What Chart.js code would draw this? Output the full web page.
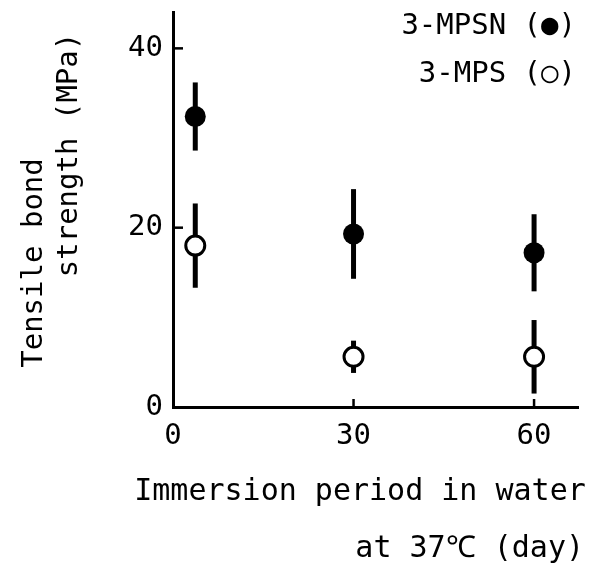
<!DOCTYPE html>
<html lang="en">
<head>
  <meta charset="UTF-8" />
  <title>Tensile bond strength vs immersion period</title>
  <script src="https://cdn.jsdelivr.net/npm/chart.js"></script>
  <style>
    body { margin: 0; background: #fff; }
    .wrap { width: 613px; height: 565px; }
  </style>
</head>
<body>
<div class="wrap"><canvas id="chart" width="613" height="565"></canvas></div>
<script>
  // values
  const days = [3.7, 30, 60];
  const mpsnMean = [32.4, 19.3, 17.2];
  const mpsnSD = [3.8, 5.0, 4.3];
  const mpsMean = [18.0, 5.6, 5.6];
  const mpsSD = [4.7, 1.8, 4.1];
  const xTicks = [0, 30, 60];
  const yTicks = [0, 20, 40];
  const seriesNames = ["3-MPSN (●)", "3-MPS (○)"];

  const FONT = "'DejaVu Sans Mono', 'Liberation Mono', monospace";

  const toPoints = (xs, ys) => xs.map((x, i) => ({ x, y: ys[i] }));

  // error bars, inner ticks and free-standing texts
  const extras = {
    id: "extras",
    beforeDatasetsDraw(chart) {
      const { ctx, scales: { x, y } } = chart;
      ctx.save();
      ctx.strokeStyle = "#000";
      ctx.lineWidth = 5;
      chart.data.datasets.forEach(ds => {
        ds.data.forEach((p, i) => {
          const px = x.getPixelForValue(p.x);
          ctx.beginPath();
          ctx.moveTo(px, y.getPixelForValue(p.y - ds.sd[i]));
          ctx.lineTo(px, y.getPixelForValue(p.y + ds.sd[i]));
          ctx.stroke();
        });
      });
      ctx.restore();
    },
    afterDraw(chart) {
      const { ctx, chartArea: a, scales: { x, y } } = chart;
      ctx.save();
      ctx.strokeStyle = "#000";
      ctx.lineWidth = 2.5;
      yTicks.slice(1).forEach(v => {
        const py = y.getPixelForValue(v);
        ctx.beginPath(); ctx.moveTo(a.left, py); ctx.lineTo(a.left + 10, py); ctx.stroke();
      });
      xTicks.slice(1).forEach(v => {
        const px = x.getPixelForValue(v);
        ctx.beginPath(); ctx.moveTo(px, a.bottom); ctx.lineTo(px, a.bottom - 8); ctx.stroke();
      });

      ctx.fillStyle = "#000";
      ctx.font = "29px " + FONT;
      ctx.textAlign = "right";
      ctx.textBaseline = "alphabetic";
      ctx.fillText(seriesNames[0], 576, 34);
      ctx.fillText(seriesNames[1], 576, 82);

      ctx.font = "30px " + FONT;
      ctx.textAlign = "center";
      ctx.fillText("Immersion period in water", 360, 500);
      ctx.textAlign = "right";
      ctx.fillText("at 37℃ (day)", 584, 557);

      ctx.font = "29px " + FONT;
      ctx.textAlign = "center";
      [["Tensile bond", 42, 263], ["strength (MPa)", 77, 155]].forEach(([t, tx, ty]) => {
        ctx.save();
        ctx.translate(tx, ty);
        ctx.rotate(-Math.PI / 2);
        ctx.fillText(t, 0, 0);
        ctx.restore();
      });
      ctx.restore();
    }
  };

  new Chart(document.getElementById("chart"), {
    type: "scatter",
    data: {
      datasets: [
        {
          label: "3-MPSN", data: toPoints(days, mpsnMean), sd: mpsnSD,
          pointRadius: 10.5, pointHoverRadius: 10.5,
          backgroundColor: "#000", borderColor: "#000", borderWidth: 0
        },
        {
          label: "3-MPS", data: toPoints(days, mpsMean), sd: mpsSD,
          pointRadius: 9.5, pointHoverRadius: 9.5,
          backgroundColor: "#fff", borderColor: "#000", borderWidth: 3
        }
      ]
    },
    options: {
      responsive: false,
      animation: false,
      layout: { padding: { top: 10, right: 35, left: 0, bottom: 0 } },
      plugins: { legend: { display: false }, tooltip: { enabled: false } },
      scales: {
        x: {
          type: "linear", min: 0, max: 67.3,
          afterBuildTicks: s => { s.ticks = xTicks.map(v => ({ value: v })); },
          afterFit: s => { s.height = 158; s.paddingLeft = 0; s.paddingRight = 0; },
          grid: { drawOnChartArea: false, drawTicks: false },
          border: { color: "#000", width: 3 },
          ticks: { padding: 12, color: "#000", font: { family: FONT, size: 29 } }
        },
        y: {
          min: 0, max: 44,
          afterBuildTicks: s => { s.ticks = yTicks.map(v => ({ value: v })); },
          afterFit: s => { s.width = 173; s.paddingTop = 0; s.paddingBottom = 0; },
          grid: { drawOnChartArea: false, drawTicks: false },
          border: { color: "#000", width: 3 },
          ticks: { padding: 10, color: "#000", font: { family: FONT, size: 29 } }
        }
      }
    },
    plugins: [extras]
  });
</script>
</body>
</html>
